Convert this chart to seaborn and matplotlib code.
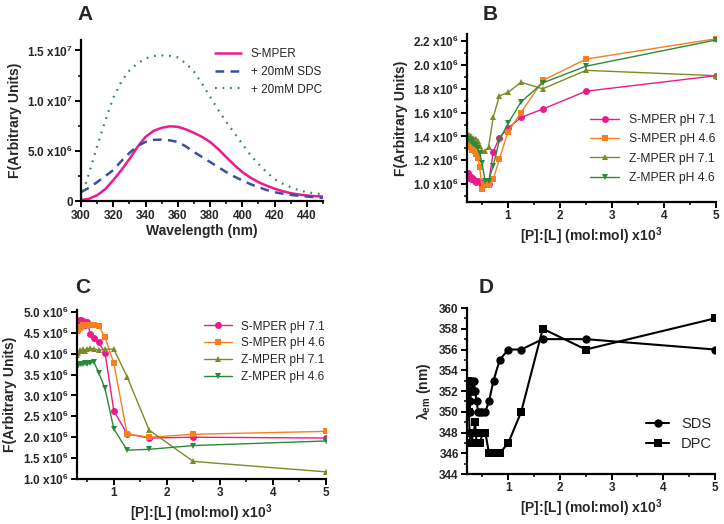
import numpy as np
import pandas as pd
import matplotlib
matplotlib.use("Agg")
import matplotlib.pyplot as plt
from matplotlib.ticker import FuncFormatter, MultipleLocator
import seaborn as sns

# ---- panel A: emission spectra (x1e6)
wavelength = [300, 305, 310, 315, 320, 325, 330, 335, 340, 345, 350, 355, 360, 365, 370, 375,
              380, 385, 390, 395, 400, 405, 410, 415, 420, 425, 430, 435, 440, 445, 450]
smper_buffer = [0.1, 0.25, 0.6, 1.2, 2.1, 3.1, 4.2, 5.4, 6.4, 7.0, 7.3, 7.45, 7.4, 7.15, 6.8, 6.4,
                5.9, 5.2, 4.4, 3.6, 2.9, 2.35, 1.9, 1.55, 1.25, 1.0, 0.8, 0.67, 0.57, 0.5, 0.47]
smper_sds = [0.9, 1.35, 1.9, 2.5, 3.1, 4.0, 4.8, 5.5, 5.9, 6.1, 6.13, 6.05, 5.9, 5.45, 4.9, 4.4,
             3.9, 3.4, 2.9, 2.45, 2.07, 1.7, 1.4, 1.12, 0.9, 0.75, 0.63, 0.54, 0.47, 0.4, 0.33]
smper_dpc = [0.3, 2.8, 5.5, 8.0, 10.3, 11.9, 13.0, 13.7, 14.2, 14.45, 14.5, 14.45, 14.3, 13.7, 12.9, 11.7,
             10.4, 9.1, 7.9, 6.8, 5.7, 4.6, 3.7, 2.9, 2.2, 1.75, 1.4, 1.1, 0.9, 0.78, 0.67]

# ---- P:L ratios (x10^3)
ratio = [5, 2.5, 1.667, 1.25, 1.0, 0.833, 0.714, 0.625, 0.556, 0.5, 0.455,
         0.417, 0.385, 0.357, 0.333, 0.313, 0.294, 0.278, 0.263, 0.25, 0.238, 0.227]

# ---- panel B: SDS titration (x1e6)
b_s71 = [1.91, 1.78, 1.63, 1.56, 1.47, 1.39, 1.27, 1.0, 1.005, 1.0, 1.02,
         1.03, 1.02, 1.03, 1.04, 1.05, 1.04, 1.06, 1.05, 1.07, 1.08, 1.09]
b_s46 = [2.22, 2.05, 1.87, 1.6, 1.44, 1.21, 1.04, 0.99, 1.0, 0.96, 1.14,
         1.22, 1.25, 1.28, 1.30, 1.29, 1.31, 1.32, 1.33, 1.34, 1.35, 1.37]
b_z71 = [1.91, 1.955, 1.80, 1.855, 1.77, 1.74, 1.56, 1.31, 1.28, 1.28, 1.32,
         1.36, 1.38, 1.38, 1.39, 1.38, 1.39, 1.40, 1.40, 1.41, 1.40, 1.41]
b_z46 = [2.21, 1.99, 1.85, 1.69, 1.51, 1.37, 1.15, 1.03, 1.03, 1.18, 1.26,
         1.30, 1.32, 1.33, 1.34, 1.35, 1.36, 1.36, 1.37, 1.37, 1.38, 1.38]

# ---- panel C: DPC titration (x1e6), ratios 5 .. 0.313
c_ratio = ratio[:16]
c_s71 = [1.98, 2.0, 1.98, 2.08, 2.63, 4.03, 4.27, 4.37, 4.47, 4.76, 4.70, 4.79, 4.82, 4.80, 4.75, 4.78]
c_s46 = [2.14, 2.07, 2.0, 2.08, 3.77, 4.40, 4.67, 4.69, 4.68, 4.68, 4.70, 4.68, 4.65, 4.62, 4.58, 4.55]
c_z71 = [1.17, 1.42, 2.17, 3.45, 4.11, 4.11, 4.08, 4.12, 4.13, 4.12, 4.07, 4.12, 4.06, 4.09, 4.03, 3.98]
c_z46 = [1.91, 1.80, 1.71, 1.69, 2.2, 3.17, 3.55, 3.80, 3.78, 3.76, 3.78, 3.76, 3.76, 3.75, 3.72, 3.68]

# ---- panel D: emission maximum (nm)
d_sds = [356, 357, 357, 356, 356, 355, 353, 351, 350, 350, 350,
         350, 351, 352, 353, 352, 353, 352, 351, 350, 353, 350]
d_dpc = [359, 356, 358, 350, 347, 346, 346, 346, 348, 348, 347,
         347, 347, 349, 348, 348, 347, 348, 347, 348, 350, 353]

sns.set_style("ticks")
plt.rcParams['font.family'] = ['Liberation Sans', 'DejaVu Sans']
plt.rcParams['font.weight'] = 'bold'
plt.rcParams['axes.labelweight'] = 'bold'
plt.rcParams['mathtext.fontset'] = 'custom'
plt.rcParams['mathtext.rm'] = 'Liberation Sans:bold'
plt.rcParams['mathtext.bf'] = 'Liberation Sans:bold'
plt.rcParams['mathtext.it'] = 'Liberation Sans'
plt.rcParams['mathtext.default'] = 'regular'

PINK = '#ec1a8a'
ORANGE = '#f7801e'
OLIVE = '#7d8a25'
GREEN = '#2a8a3c'
BLUE = '#3e4da6'
DOTGREEN = '#3a8a50'


def sci(v, pos):
    if abs(v) < 1e-9:
        return '0'
    e = int(np.floor(np.log10(abs(v)) + 1e-9))
    m = v / 10 ** e
    return f'{m:.1f} x10$^{{{e}}}$'


def style(ax):
    sns.despine(ax=ax)
    for s in ['left', 'bottom']:
        ax.spines[s].set_linewidth(1.6)
        ax.spines[s].set_color('black')
    ax.tick_params(which='major', width=1.4, length=4, labelsize=8.5, pad=2, color='black')
    ax.tick_params(which='minor', width=1.1, length=2.5, color='black')
    for lab in ax.get_xticklabels() + ax.get_yticklabels():
        lab.set_fontweight('bold')


fig = plt.figure(figsize=(7.24, 5.24), dpi=100)

# ---------- A
axA = fig.add_axes([0.112, 0.616, 0.334, 0.307])
sns.lineplot(x=wavelength, y=np.array(smper_buffer) * 1e6, ax=axA, color=PINK, lw=1.8, label='S-MPER')
sns.lineplot(x=wavelength, y=np.array(smper_sds) * 1e6, ax=axA, color=BLUE, lw=1.8, ls=(0, (3.5, 2.5)), label='+ 20mM SDS')
sns.lineplot(x=wavelength, y=np.array(smper_dpc) * 1e6, ax=axA, color=DOTGREEN, lw=1.6, ls=(0, (0.8, 2.6)), label='+ 20mM DPC')
axA.set_xlim(300, 450)
axA.set_ylim(0, 1.6e7)
axA.set_xticks([300, 320, 340, 360, 380, 400, 420, 440])
axA.xaxis.set_minor_locator(MultipleLocator(10))
axA.set_yticks([0, 5e6, 1e7, 1.5e7])
axA.yaxis.set_minor_locator(MultipleLocator(2.5e6))
axA.yaxis.set_major_formatter(FuncFormatter(sci))
axA.set_xlabel('Wavelength (nm)', fontsize=10, labelpad=2)
axA.set_ylabel('F(Arbitrary Units)', fontsize=10)
axA.legend(loc='upper right', frameon=False, handlelength=2.2, bbox_to_anchor=(1.04, 1.02),
           prop={'weight': 'normal', 'size': 8.5})
style(axA)


def titration(ax, xs, series, labels, colors, markers):
    for ys, lab, col, mk in zip(series, labels, colors, markers):
        sns.lineplot(x=xs, y=np.array(ys) * 1e6, ax=ax, color=col, lw=1.0, marker=mk,
                     markersize=5, markeredgewidth=0, label=lab, estimator=None)


labels4 = ['S-MPER pH 7.1', 'S-MPER pH 4.6', 'Z-MPER pH 7.1', 'Z-MPER pH 4.6']
colors4 = [PINK, ORANGE, OLIVE, GREEN]
markers4 = ['o', 's', '^', 'v']

# ---------- B
axB = fig.add_axes([0.645, 0.6145, 0.344, 0.3206])
titration(axB, ratio, [b_s71, b_s46, b_z71, b_z46], labels4, colors4, markers4)
axB.set_xlim(0.21, 5.0)
axB.set_ylim(0.85e6, 2.26e6)
axB.set_xticks([1, 2, 3, 4, 5])
axB.xaxis.set_minor_locator(MultipleLocator(0.5))
axB.set_yticks([1.0e6, 1.2e6, 1.4e6, 1.6e6, 1.8e6, 2.0e6, 2.2e6])
axB.yaxis.set_minor_locator(MultipleLocator(1e5))
axB.yaxis.set_major_formatter(FuncFormatter(sci))
axB.set_xlabel('[P]:[L] (mol:mol) x10$^3$', fontsize=10, labelpad=2)
axB.set_ylabel('F(Arbitrary Units)', fontsize=10)
axB.legend(loc='center right', frameon=False, bbox_to_anchor=(1.04, 0.315), handlelength=2.4,
           prop={'weight': 'normal', 'size': 8.7}, labelspacing=0.6)
style(axB)

# ---------- C
axC = fig.add_axes([0.106, 0.086, 0.344, 0.3225])
titration(axC, c_ratio, [c_s71, c_s46, c_z71, c_z46], labels4, colors4, markers4)
axC.set_xlim(0.30, 5.0)
axC.set_ylim(1.0e6, 5.05e6)
axC.set_xticks([1, 2, 3, 4, 5])
axC.xaxis.set_minor_locator(MultipleLocator(0.5))
axC.set_yticks(np.arange(1.0e6, 5.01e6, 0.5e6))
axC.yaxis.set_major_formatter(FuncFormatter(sci))
axC.set_xlabel('[P]:[L] (mol:mol) x10$^3$', fontsize=10, labelpad=2)
axC.set_ylabel('F(Arbitrary Units)', fontsize=10)
axC.legend(loc='upper right', frameon=False, bbox_to_anchor=(1.04, 1.0), handlelength=2.4,
           prop={'weight': 'normal', 'size': 8.5}, labelspacing=0.4)
style(axC)

# ---------- D
axD = fig.add_axes([0.645, 0.0954, 0.3425, 0.3168])
sns.lineplot(x=ratio, y=d_sds, ax=axD, color='black', lw=1.5, marker='o', markersize=6,
             markeredgewidth=0, label='SDS', estimator=None)
sns.lineplot(x=ratio, y=d_dpc, ax=axD, color='black', lw=1.5, marker='s', markersize=6,
             markeredgewidth=0, label='DPC', estimator=None)
axD.set_xlim(0.2, 5.0)
axD.set_ylim(344, 360)
axD.set_xticks([1, 2, 3, 4, 5])
axD.xaxis.set_minor_locator(MultipleLocator(0.5))
axD.set_yticks(np.arange(344, 361, 2))
axD.yaxis.set_minor_locator(MultipleLocator(1))
axD.set_xlabel('[P]:[L] (mol:mol) x10$^3$', fontsize=10, labelpad=2)
axD.set_ylabel(r'$\mathit{λ}_{\mathregular{em}}$ (nm)', fontsize=10)
axD.legend(loc='lower right', frameon=False, bbox_to_anchor=(1.04, 0.06), handlelength=1.6,
           prop={'weight': 'normal', 'size': 10.5}, labelspacing=0.4)
style(axD)

for lbl, x, y in [('A', 0.117, 0.99), ('B', 0.677, 0.99), ('C', 0.114, 0.47), ('D', 0.672, 0.47)]:
    fig.text(x, y, lbl, fontsize=15, fontweight='bold', ha='center', va='top')

fig.savefig('out.png', dpi=100)
